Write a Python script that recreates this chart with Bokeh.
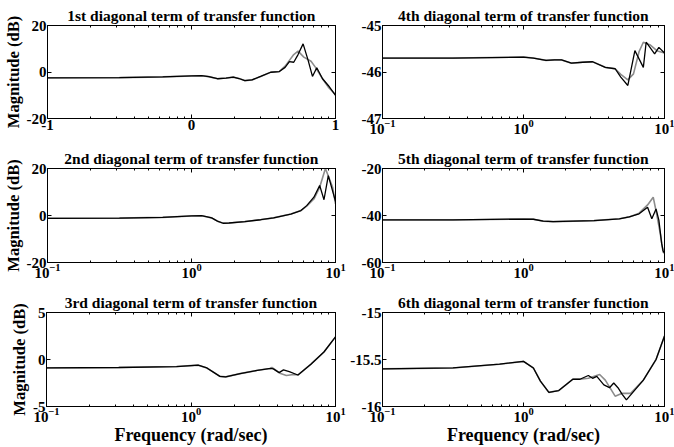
from bokeh.plotting import figure
from bokeh.layouts import column, row
from bokeh.models import FixedTicker, LinearAxis, LogAxis, Range1d
from bokeh.embed import file_html
from bokeh.resources import INLINE

FONT = "Liberation Serif"

# ---------------- data (frequency in rad/sec, magnitude in dB) ----------------
titles = ["1st diagonal term of transfer function",
          "2nd diagonal term of transfer function",
          "3rd diagonal term of transfer function",
          "4th diagonal term of transfer function",
          "5th diagonal term of transfer function",
          "6th diagonal term of transfer function"]

# 1st term
f1_black = [0.1, 0.316, 0.631, 1.0, 1.175, 1.318, 1.514, 1.738, 1.95, 2.138, 2.344, 2.63, 3.02,
            3.548, 4.074, 4.467, 4.786, 5.129, 5.495, 5.957, 6.457, 6.918, 7.413, 8.128, 8.913, 10.0]
m1_black = [-2.5, -2.4, -2.1, -1.7, -1.6, -2.0, -2.9, -2.6, -2.2, -2.8, -3.7, -3.4, -1.9,
            -0.1, 0.2, 2.0, 4.5, 4.2, 7.5, 12.1, 5.0, -1.9, 1.8, -2.9, -5.8, -10.1]
f1_gray = [0.1, 0.316, 0.631, 1.0, 1.175, 1.318, 1.514, 1.738, 1.95, 2.138, 2.344, 2.63, 3.02,
           3.548, 4.074, 4.467, 4.786, 5.129, 5.495, 6.026, 6.761, 7.244, 8.128, 8.913, 10.0]
m1_gray = [-2.5, -2.4, -2.1, -1.7, -1.6, -2.0, -2.9, -2.6, -2.2, -2.8, -3.7, -3.4, -1.9,
           -0.1, 0.2, 2.5, 5.0, 7.5, 9.0, 6.4, 4.6, 2.1, -2.9, -6.5, -9.7]

# 2nd term
f2_black = [0.1, 0.316, 0.631, 1.0, 1.175, 1.288, 1.38, 1.514, 1.66, 1.82, 2.344, 3.02, 3.715,
            4.898, 5.754, 6.31, 7.079, 7.762, 8.318, 8.913, 10.0]
m2_black = [-1.2, -1.1, -0.8, -0.2, -0.1, -0.6, -1.0, -2.4, -3.3, -3.2, -2.6, -1.8, -1.0,
            0.6, 2.1, 4.2, 7.8, 12.8, 6.7, 17.0, 6.0]
f2_gray = [0.1, 0.316, 0.631, 1.0, 1.175, 1.288, 1.38, 1.514, 1.66, 1.82, 2.344, 3.02, 3.715,
           4.898, 5.754, 6.31, 7.079, 7.762, 8.511, 9.55, 10.0]
m2_gray = [-1.2, -1.1, -0.8, -0.2, -0.1, -0.6, -1.0, -2.4, -3.3, -3.2, -2.6, -1.8, -1.0,
           0.6, 2.1, 4.0, 7.0, 12.0, 20.0, 12.0, 5.0]

# 3rd term
f3_black = [0.1, 0.316, 0.794, 1.0, 1.122, 1.288, 1.445, 1.585, 1.738, 2.188, 2.884, 3.548,
            3.715, 4.074, 4.365, 4.786, 5.495, 6.761, 8.318, 10.0]
m3_black = [-0.9, -0.85, -0.75, -0.65, -0.6, -0.9, -1.4, -1.8, -1.85, -1.5, -1.15, -0.95,
            -1.0, -1.4, -1.1, -1.3, -1.65, -0.5, 0.8, 2.4]
f3_gray = [0.1, 0.316, 0.794, 1.0, 1.122, 1.288, 1.445, 1.585, 1.738, 2.188, 2.884, 3.548,
           3.631, 4.169, 4.571, 5.129, 5.495, 6.761, 8.318, 10.0]
m3_gray = [-0.9, -0.85, -0.75, -0.65, -0.6, -0.9, -1.4, -1.8, -1.85, -1.5, -1.15, -0.95,
           -0.85, -1.5, -1.7, -1.6, -1.65, -0.5, 0.8, 2.4]

# 4th term
f4_black = [0.1, 0.316, 1.0, 1.175, 1.445, 1.66, 1.862, 2.188, 2.63, 3.09, 3.802, 4.467,
            4.898, 5.495, 6.166, 7.079, 7.413, 8.511, 9.12, 10.0]
m4_black = [-45.70, -45.70, -45.68, -45.70, -45.75, -45.74, -45.74, -45.81, -45.79, -45.78,
            -45.90, -45.93, -46.11, -46.29, -45.54, -45.90, -45.36, -45.61, -45.47, -45.59]
f4_gray = [0.1, 0.316, 1.0, 1.175, 1.445, 1.66, 1.862, 2.188, 2.63, 3.09, 3.802, 4.467,
           4.898, 5.495, 6.026, 6.607, 7.079, 7.943, 8.913, 10.0]
m4_gray = [-45.70, -45.70, -45.68, -45.70, -45.75, -45.74, -45.74, -45.81, -45.79, -45.78,
           -45.90, -45.93, -46.05, -46.17, -46.04, -45.56, -45.36, -45.42, -45.55, -45.59]

# 5th term
f5_black = [0.1, 0.316, 1.0, 1.175, 1.38, 1.622, 3.162, 4.786, 5.623, 6.607, 7.586, 8.128,
            8.71, 9.12, 9.55, 9.772, 10.0]
m5_black = [-41.9, -41.9, -41.5, -41.6, -42.4, -42.6, -42.2, -41.4, -40.6, -39.3, -36.5, -41.4,
            -37.2, -42.0, -52.0, -55.0, -56.0]
f5_gray = [0.1, 0.316, 1.0, 1.175, 1.38, 1.622, 3.162, 4.786, 5.623, 6.607, 7.586, 8.318,
           8.81, 9.333, 9.772, 10.0]
m5_gray = [-41.9, -41.9, -41.5, -41.6, -42.4, -42.6, -42.2, -41.4, -40.6, -39.0, -35.5, -32.2,
           -39.5, -47.7, -55.6, -56.0]

# 6th term
f6_black = [0.1, 0.316, 0.676, 1.0, 1.175, 1.318, 1.514, 1.778, 2.239, 2.512, 2.884, 3.09,
            3.311, 3.715, 4.074, 4.365, 4.677, 5.012, 5.37, 7.079, 8.71, 10.0]
m6_black = [-15.60, -15.59, -15.55, -15.52, -15.59, -15.73, -15.85, -15.83, -15.71, -15.71,
            -15.67, -15.70, -15.68, -15.77, -15.80, -15.75, -15.80, -15.87, -15.93, -15.72,
            -15.50, -15.25]
f6_gray = [0.1, 0.316, 0.676, 1.0, 1.175, 1.318, 1.514, 1.778, 2.239, 2.512, 2.884, 3.467,
           3.802, 4.467, 5.012, 5.754, 7.079, 8.71, 10.0]
m6_gray = [-15.60, -15.59, -15.55, -15.52, -15.59, -15.73, -15.85, -15.83, -15.71, -15.71,
           -15.70, -15.66, -15.72, -15.89, -15.86, -15.86, -15.72, -15.50, -15.25]

y_ranges = [(-20, 20), (-20, 20), (-5, 5), (-47, -45), (-60, -20), (-16, -15)]
y_ticks = [[-20, 0, 20], [-20, 0, 20], [-5, 0, 5], [-47, -46, -45], [-60, -40, -20],
           [-16, -15.5, -15]]
y_tick_labels = [["-20", "0", "20"], ["-20", "0", "20"], ["-5", "0", "5"],
                 ["-47", "-46", "-45"], ["-60", "-40", "-20"], ["-16", "-15.5", "-15"]]
x_major = [0.1, 1.0, 10.0]
x_minor = [0.2, 0.3, 0.4, 0.5, 0.6, 0.7, 0.8, 0.9, 2, 3, 4, 5, 6, 7, 8, 9]
x_labels_exp = ["-1", "0", "1"]

BLACK = "#000000"
GRAY = "#8c8c8c"


def style_axis(ax, labels=True):
    ax.major_tick_in = 4
    ax.major_tick_out = 0
    ax.minor_tick_in = 2
    ax.minor_tick_out = 0
    ax.axis_line_color = "black"
    ax.major_tick_line_color = "black"
    ax.minor_tick_line_color = "black"
    ax.major_label_text_font = FONT
    ax.major_label_text_font_style = "bold"
    ax.major_label_text_color = "black"
    ax.axis_label_text_font = FONT
    ax.axis_label_text_font_style = "bold"
    ax.axis_label_text_color = "black"
    if labels:
        ax.major_label_text_font_size = "15px"
        ax.major_label_standoff = 1
    else:
        ax.major_label_text_font_size = "1px"
        ax.major_label_text_alpha = 0
        ax.major_label_standoff = 0


# row heights / frame heights, column widths / frame widths (layout only)
ROW_H = [143, 143, 161]
ROW_TOP = [25, 25, 26]
FRAME_H = [93, 94, 95]
COL_W = [347, 327]
COL_LEFT = [46, 35]
FRAME_W = [289, 282]


def make(i, fb, mb, fg, mg, col, rw, exp_labels):
    bottom = rw == 2
    p = figure(x_axis_type="log", x_range=Range1d(0.1, 10),
               y_range=Range1d(*y_ranges[i]),
               width=COL_W[col], height=ROW_H[rw],
               min_border_left=COL_LEFT[col],
               min_border_right=COL_W[col] - COL_LEFT[col] - FRAME_W[col],
               min_border_top=ROW_TOP[rw],
               min_border_bottom=ROW_H[rw] - ROW_TOP[rw] - FRAME_H[rw],
               output_backend="svg", toolbar_location=None)
    p.title.text = titles[i]
    p.title.align = "center"
    p.title.text_font = FONT
    p.title.text_font_size = "15.5px"
    p.title.text_font_style = "bold"
    p.title.text_color = "black"
    p.title.standoff = 3
    p.title.offset = 0
    p.grid.visible = False
    p.outline_line_color = "black"
    p.outline_line_width = 1
    p.background_fill_color = "white"
    p.border_fill_color = "white"

    xa = p.xaxis[0]
    xa.ticker = FixedTicker(ticks=x_major, minor_ticks=x_minor)
    if exp_labels:
        xa.major_label_overrides = {t: l for t, l in zip(x_major, x_labels_exp)}
    style_axis(xa)
    if bottom:
        xa.axis_label = "Frequency (rad/sec)"
        xa.axis_label_standoff = 0
        xa.axis_label_text_font_size = "18px"

    ya = p.yaxis[0]
    ya.ticker = FixedTicker(ticks=y_ticks[i], minor_ticks=[])
    ya.major_label_overrides = {float(t): l for t, l in zip(y_ticks[i], y_tick_labels[i])}
    style_axis(ya)
    if col == 0:
        ya.axis_label = "Magnitude (dB)"
        ya.axis_label_standoff = 1
        ya.axis_label_text_font_size = "16.5px"

    top = LogAxis(ticker=FixedTicker(ticks=x_major, minor_ticks=x_minor))
    style_axis(top, labels=False)
    p.add_layout(top, "above")
    right = LinearAxis(ticker=FixedTicker(ticks=y_ticks[i], minor_ticks=[]))
    style_axis(right, labels=False)
    p.add_layout(right, "right")

    p.line(fg, mg, line_color=GRAY, line_width=1.6)
    p.line(fb, mb, line_color=BLACK, line_width=1.3)
    return p


p1 = make(0, f1_black, m1_black, f1_gray, m1_gray, 0, 0, True)
p2 = make(1, f2_black, m2_black, f2_gray, m2_gray, 0, 1, False)
p3 = make(2, f3_black, m3_black, f3_gray, m3_gray, 0, 2, False)
p4 = make(3, f4_black, m4_black, f4_gray, m4_gray, 1, 0, False)
p5 = make(4, f5_black, m5_black, f5_gray, m5_gray, 1, 1, False)
p6 = make(5, f6_black, m6_black, f6_gray, m6_gray, 1, 2, False)

layout = column(row(p1, p4), row(p2, p5), row(p3, p6))

open("out.html", "w").write(file_html(layout, INLINE))
